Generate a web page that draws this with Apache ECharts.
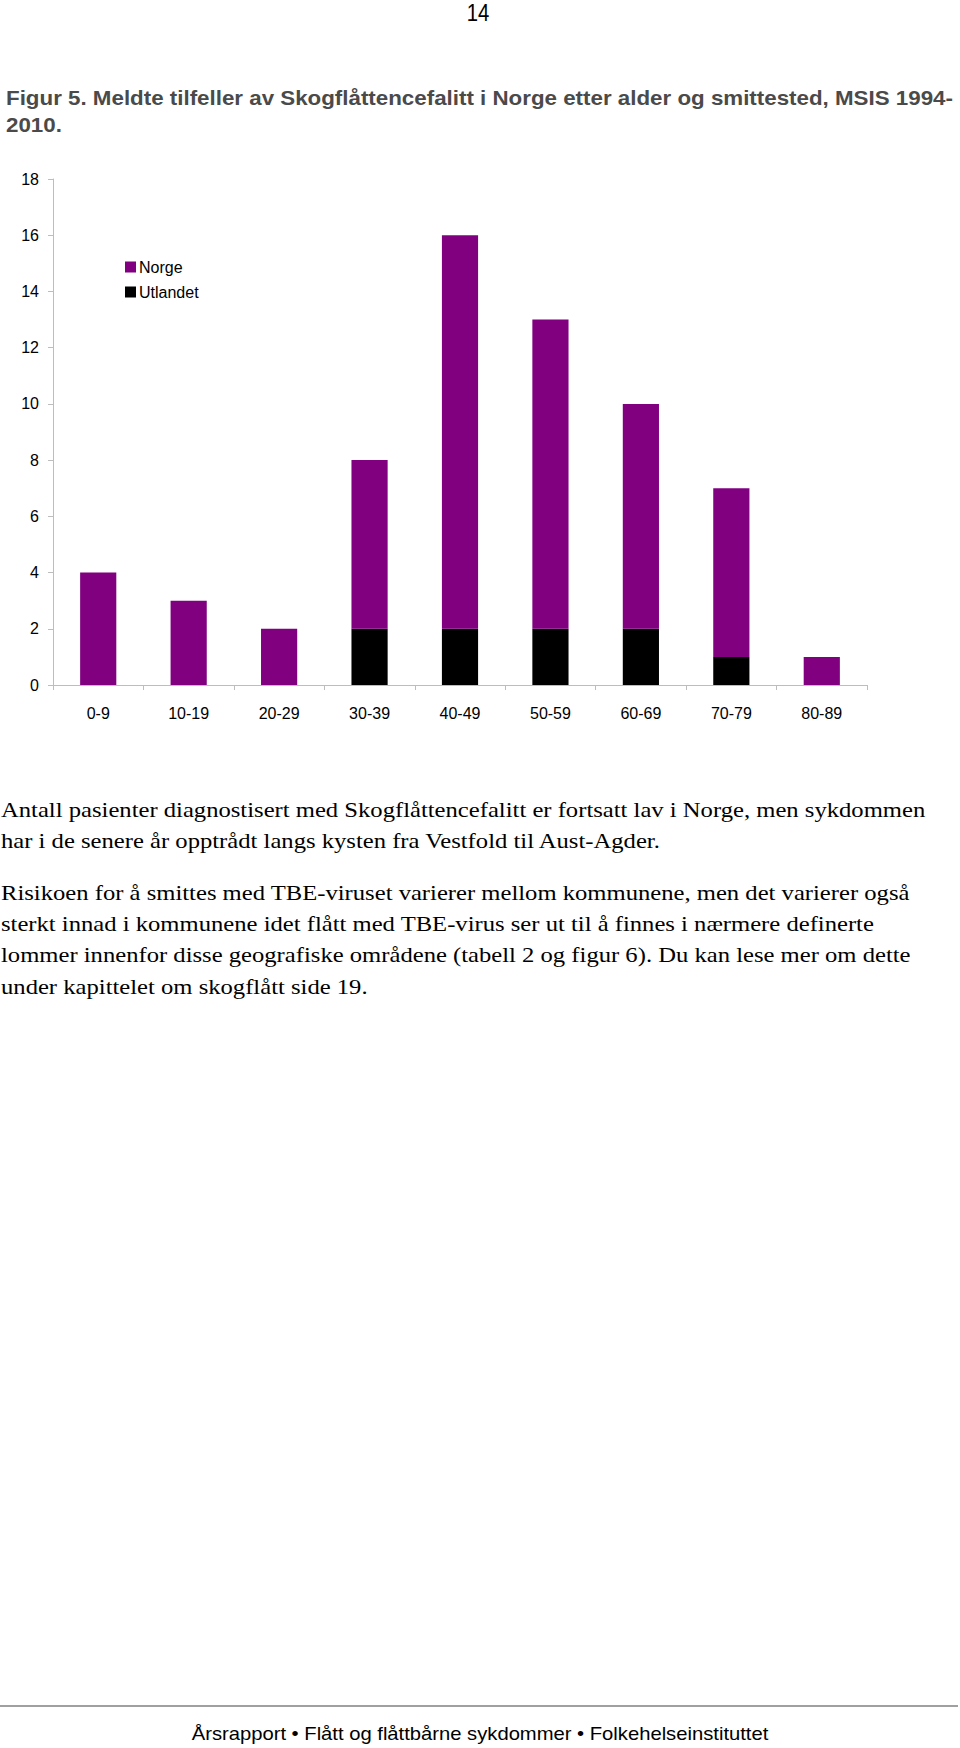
<!DOCTYPE html>
<html>
<head>
<meta charset="utf-8">
<script src="https://cdn.jsdelivr.net/npm/echarts@6/dist/echarts.min.js"></script>
<style>
  html, body { margin: 0; padding: 0; background: #fff; }
  #page { width: 960px; height: 1748px; }
</style>
</head>
<body>
<div id="page"></div>
<script>
// aldersgrupper og tilfeller
var ageGroups = ['0-9', '10-19', '20-29', '30-39', '40-49', '50-59', '60-69', '70-79', '80-89'];
var norge = [4, 3, 2, 6, 14, 11, 8, 6, 1];
var utlandet = [0, 0, 0, 2, 2, 2, 2, 1, 0];
var seriesNames = ['Norge', 'Utlandet'];
var yMin = 0, yMax = 18, yStep = 2;

var pageNumber = '14';
var titleLines = [
  'Figur 5. Meldte tilfeller av Skogflåttencefalitt i Norge etter alder og smittested, MSIS 1994-',
  '2010.'
];
var para1 = [
  'Antall pasienter diagnostisert med Skogflåttencefalitt er fortsatt lav i Norge, men sykdommen',
  'har i de senere år opptrådt langs kysten fra Vestfold til Aust-Agder.'
];
var para2 = [
  'Risikoen for å smittes med TBE-viruset varierer mellom kommunene, men det varierer også',
  'sterkt innad i kommunene idet flått med TBE-virus ser ut til å finnes i nærmere definerte',
  'lommer innenfor disse geografiske områdene (tabell 2 og figur 6). Du kan lese mer om dette',
  'under kapittelet om skogflått side 19.'
];
var footer = 'Årsrapport • Flått og flåttbårne sykdommer • Folkehelseinstituttet';

// måle tekstbredde for å tilpasse smal skrift
var ctx = document.createElement('canvas').getContext('2d');
function textWidth(str, font) {
  ctx.font = font;
  return ctx.measureText(str).width;
}

function textItem(str, x, y, size, family, weight, color, sx, align) {
  return {
    type: 'text',
    x: x, y: y,
    scaleX: sx,
    style: {
      text: str,
      x: 0, y: 0,
      fontSize: size,
      fontFamily: family,
      fontWeight: weight,
      fill: color,
      textAlign: align || 'left',
      textVerticalAlign: 'middle'
    }
  };
}

var graphics = [];
var sans = '"Liberation Sans", Arial, sans-serif';
var serif = '"Liberation Serif", "Times New Roman", serif';

graphics.push(textItem(pageNumber, 478, 13, 23, sans, 'normal', '#000', 0.88, 'center'));

var titleSize = 21;
var titleScale = 947 / textWidth(titleLines[0], 'bold ' + titleSize + 'px ' + sans);
titleLines.forEach(function (t, i) {
  graphics.push(textItem(t, 6, 98 + i * 27, titleSize, sans, 'bold', '#4a4a4a', titleScale));
});

var bodySize = 21;
var bodyScale = 925 / textWidth(para1[0], bodySize + 'px ' + serif);
para1.forEach(function (t, i) {
  graphics.push(textItem(t, 1, 810 + i * 31.5, bodySize, serif, 'normal', '#000', bodyScale));
});
para2.forEach(function (t, i) {
  graphics.push(textItem(t, 1, 893 + i * 31.3, bodySize, serif, 'normal', '#000', bodyScale));
});

graphics.push({
  type: 'line',
  shape: { x1: 0, y1: 1706, x2: 958, y2: 1706 },
  style: { stroke: '#808080', lineWidth: 1.5 }
});
var footSize = 18;
var footScale = 577 / textWidth(footer, footSize + 'px ' + sans);
graphics.push(textItem(footer, 480, 1734, footSize, sans, 'normal', '#000', footScale, 'center'));

var chart = echarts.init(document.getElementById('page'), null, { renderer: 'svg' });
chart.setOption({
  animation: false,
  backgroundColor: '#fff',
  textStyle: { fontFamily: sans },
  grid: { left: 53, right: 93, top: 179, bottom: 1063, containLabel: false },
  legend: {
    data: seriesNames,
    orient: 'vertical',
    left: 120,
    top: 254,
    icon: 'rect',
    itemWidth: 11,
    itemHeight: 11,
    itemGap: 9,
    textStyle: { fontSize: 16, color: '#000', lineHeight: 16, padding: [0, 0, 0, -2] }
  },
  xAxis: {
    type: 'category',
    data: ageGroups,
    axisLine: { lineStyle: { color: '#bdbdbd', width: 1 } },
    axisTick: { show: true, length: 5, lineStyle: { color: '#bdbdbd' } },
    axisLabel: { color: '#000', fontSize: 16, margin: 20 }
  },
  yAxis: {
    type: 'value',
    min: yMin,
    max: yMax,
    interval: yStep,
    axisLine: { show: true, lineStyle: { color: '#bdbdbd', width: 1 } },
    axisTick: { show: true, length: 5, lineStyle: { color: '#bdbdbd' } },
    axisLabel: { color: '#000', fontSize: 16, margin: 14 },
    splitLine: { show: false }
  },
  series: [
    {
      name: 'Utlandet',
      type: 'bar',
      stack: 'total',
      data: utlandet,
      barWidth: '40%',
      itemStyle: { color: '#000000' }
    },
    {
      name: 'Norge',
      type: 'bar',
      stack: 'total',
      data: norge,
      barWidth: '40%',
      itemStyle: { color: '#800080' }
    }
  ],
  graphic: graphics
});
</script>
</body>
</html>
